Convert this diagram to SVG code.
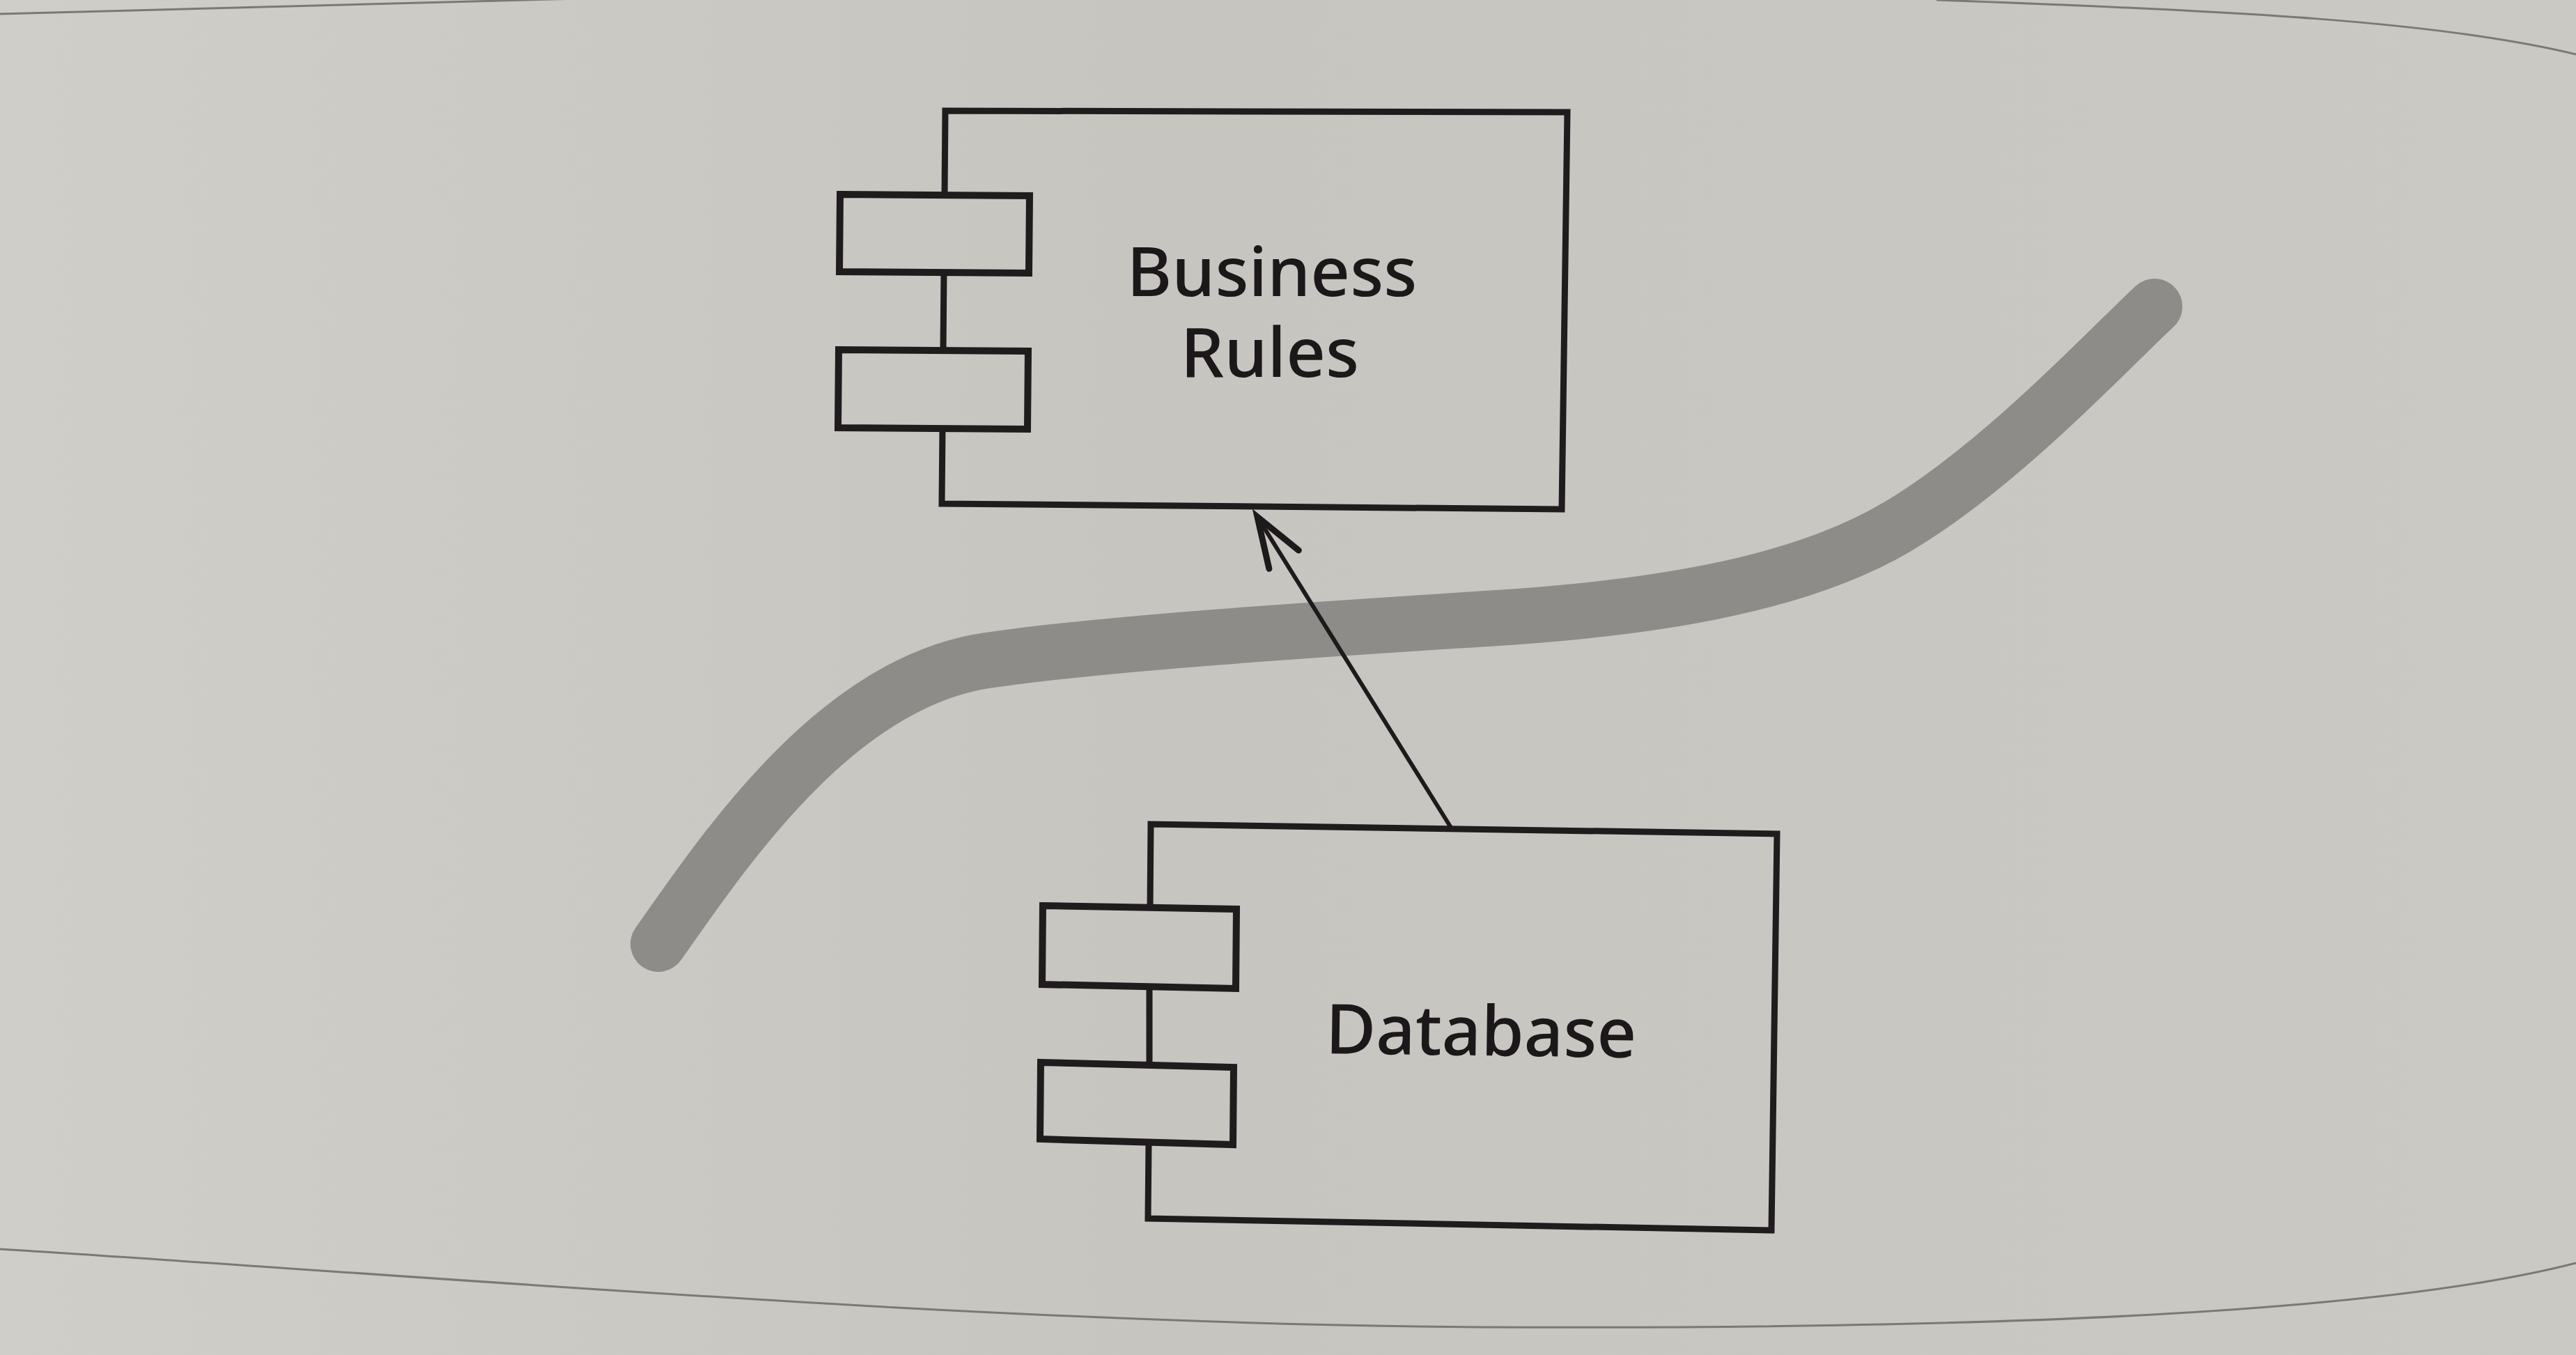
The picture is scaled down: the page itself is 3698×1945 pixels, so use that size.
<svg xmlns="http://www.w3.org/2000/svg" width="3698" height="1945" viewBox="0 0 3698 1945">
  <defs>
    <linearGradient id="paper" x1="0" y1="0" x2="1" y2="0">
      <stop offset="0" stop-color="#cfcec9"/>
      <stop offset="0.45" stop-color="#c6c5c0"/>
      <stop offset="1" stop-color="#cac9c4"/>
    </linearGradient>
    <marker id="openArrow" markerUnits="userSpaceOnUse" markerWidth="120" markerHeight="120" refX="0" refY="0" orient="auto" overflow="visible">
      <path d="M -72 -25 L 0 0 L -72 25" fill="none" stroke="#1e1a1b" stroke-width="9" stroke-linecap="round" stroke-linejoin="miter"/>
    </marker>
    <style>
      .outline { fill: none; stroke: #201c1d; stroke-width: 9; stroke-linejoin: miter; }
      .port { fill: none; stroke: #201c1d; stroke-width: 10; stroke-linejoin: miter; }
      .label { font-family: "Noto Sans", "Open Sans", "DejaVu Sans", sans-serif; font-size: 99px; font-weight: 500; fill: #1c1819; text-anchor: middle; }
      .edge { fill: none; stroke: #7a7975; stroke-width: 3; }
      .boundary { fill: none; stroke: #8d8c89; stroke-width: 80; stroke-linecap: round; stroke-linejoin: round; }
      .conn { fill: none; stroke: #1e1a1b; stroke-width: 6; }
    </style>
  </defs>

  <rect x="0" y="0" width="3698" height="1945" fill="url(#paper)"/>
  <g id="page-edges">
    <path class="edge" d="M 0 20 Q 400 8 830 -2"/>
    <path class="edge" d="M 2780 0 C 3200 15 3500 30 3698 78"/>
    <path class="edge" d="M 0 1793 C 600 1830 1400 1900 2122 1905 C 2800 1908 3400 1890 3698 1813"/>
  </g>

  <g id="boundary-line">
    <path class="boundary" d="M 945 1355 C 1040 1220 1200 980 1417 948 C 1600 921 1950 900 2150 887 C 2350 874 2574 845 2724 756 C 2874 667 3033 495 3093 440"/>
  </g>

  <g id="node-business-rules">
    <path class="outline" d="M 1356 280 L 1357 159 L 2250 161 L 2242 731 L 1352 723 L 1353 615 M 1355 391 L 1354 503"/>
    <polygon class="port" points="1206,279 1478,281 1477,392 1205,390"/>
    <polygon class="port" points="1204,502 1476,504 1475,616 1203,614"/>
    <text class="label"><tspan x="1826" y="425">Business</tspan><tspan x="1823" y="541">Rules</tspan></text>
  </g>

  <g id="node-database">
    <path class="outline" d="M 1651 1303 L 1652 1183 L 2551 1197 L 2543 1766 L 1648 1749 L 1649 1640 M 1650 1416 L 1650 1529"/>
    <polygon class="port" points="1497,1300 1775,1305 1774,1419 1496,1413"/>
    <polygon class="port" points="1494,1525 1771,1532 1770,1643 1493,1635"/>
    <text class="label" x="2126" y="1515" transform="rotate(0.8 2126 1490)">Database</text>
  </g>

  <g id="connectors">
    <line class="conn" x1="2083" y1="1188" x2="1805" y2="742" marker-end="url(#openArrow)"/>
  </g>
</svg>
